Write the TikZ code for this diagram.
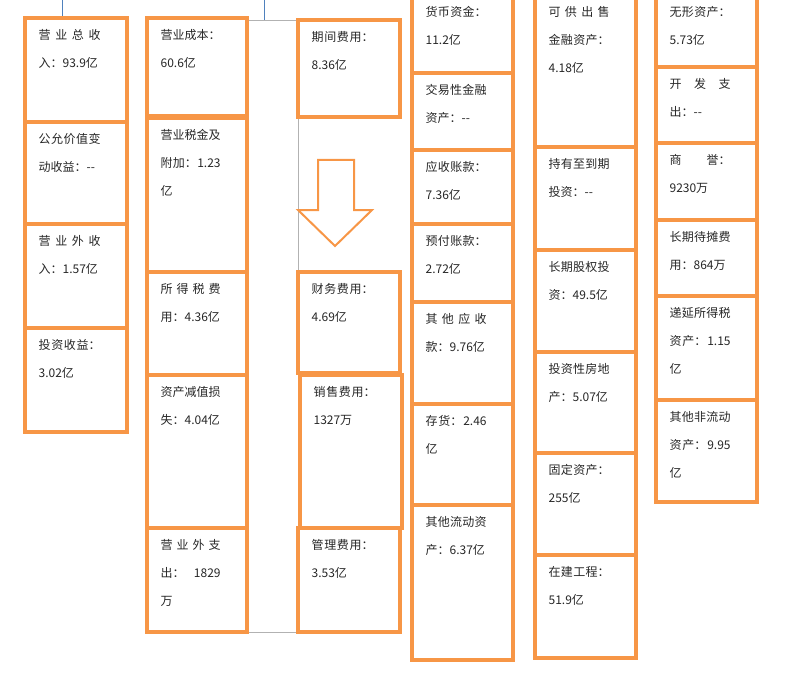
\documentclass[tikz,border=0pt]{standalone}
\usepackage{fontspec}
\setmainfont{Noto Sans CJK SC}
\XeTeXlinebreaklocale "zh"
\XeTeXlinebreakskip=0pt plus 1pt
\definecolor{frame}{HTML}{F79646}
\definecolor{link}{HTML}{4F81BD}
\newcommand{\fin}[6]{%
  \node[item, minimum width=#4pt, minimum height=#5pt] (#1) at (#2+#4/2, #3+#5/2) {};
  \node[label, text width=#4pt-40pt] at ([xshift=15pt, yshift=-13pt]#1.north west) {#6};
}
\begin{document}
\begin{tikzpicture}[x=1pt, y=-1pt,
    item/.style={draw=frame, line width=3.2pt, inner sep=0pt},
    label/.style={anchor=north west, align=justify, inner sep=0pt,
      font=\fontsize{12}{28}\selectfont, text=black!85}
  ]
  \useasboundingbox (0,0) rectangle (798,674);
  % links
  \coordinate (top1) at (62,0);
  \coordinate (top2) at (264,0);
  \draw[link] (top1) -- (62,18);
  \draw[link] (top2) -- (264,20);
  % middle strip
  \node[draw=gray!60, minimum width=51pt, minimum height=612pt, inner sep=0pt] (strip) at (272.5,326) {};
  % income
  \fin{rev}{25}{18}{102}{104}{营业总收入：93.9亿}
  \fin{fair}{25}{122}{102}{102}{公允价值变动收益：{-}{-}}
  \fin{nonop}{25}{224}{102}{104}{营业外收入：1.57亿}
  \fin{invest}{25}{328}{102}{104}{投资收益：3.02亿}
  % costs
  \fin{cost}{147}{18}{100}{98}{营业成本：60.6亿}
  \fin{tax}{147}{118}{100}{154}{营业税金及附加：1.23亿}
  \fin{income}{147}{272}{100}{103}{所得税费用：4.36亿}
  \fin{impair}{147}{375}{100}{153}{资产减值损失：4.04亿}
  \fin{nonexp}{147}{528}{100}{104}{营业外支出：1829万}
  % expenses
  \fin{period}{298}{20}{102}{97}{期间费用：8.36亿}
  \draw[frame, line width=2pt, line join=miter] (318,160) -- (354,160) -- (354,210) -- (372,210)
    -- (335,246) -- (298,210) -- (318,210) -- cycle;
  \fin{fin}{298}{272}{102}{101}{财务费用：4.69亿}
  \fin{sales}{300}{375}{102}{153}{销售费用：1327万}
  \fin{admin}{298}{528}{102}{104}{管理费用：3.53亿}
  % current assets
  \fin{cash}{412}{-5}{101}{78}{货币资金：11.2亿}
  \fin{trade}{412}{73}{101}{77}{交易性金融资产：{-}{-}}
  \fin{recv}{412}{150}{101}{74}{应收账款：7.36亿}
  \fin{prepay}{412}{224}{101}{78}{预付账款：2.72亿}
  \fin{other}{412}{302}{101}{102}{其他应收款：9.76亿}
  \fin{stock}{412}{404}{101}{101}{存货：2.46亿}
  \fin{othcur}{412}{505}{101}{155}{其他流动资产：6.37亿}
  % non-current assets
  \fin{afs}{535}{-5}{101}{152}{可供出售金融资产：4.18亿}
  \fin{htm}{535}{147}{101}{103}{持有至到期投资：{-}{-}}
  \fin{equity}{535}{250}{101}{102}{长期股权投资：49.5亿}
  \fin{estate}{535}{352}{101}{101}{投资性房地产：5.07亿}
  \fin{fixed}{535}{453}{101}{102}{固定资产：255亿}
  \fin{build}{535}{555}{101}{103}{在建工程：51.9亿}
  % other assets
  \fin{intang}{656}{-5}{101}{72}{无形资产：5.73亿}
  \fin{dev}{656}{67}{101}{76}{开发支出：{-}{-}}
  \fin{good}{656}{143}{101}{77}{商誉：9230万}
  \fin{amort}{656}{220}{101}{76}{长期待摊费用：864万}
  \fin{defer}{656}{296}{101}{104}{递延所得税资产：1.15亿}
  \fin{othnon}{656}{400}{101}{102}{其他非流动资产：9.95亿}
\end{tikzpicture}
\end{document}
